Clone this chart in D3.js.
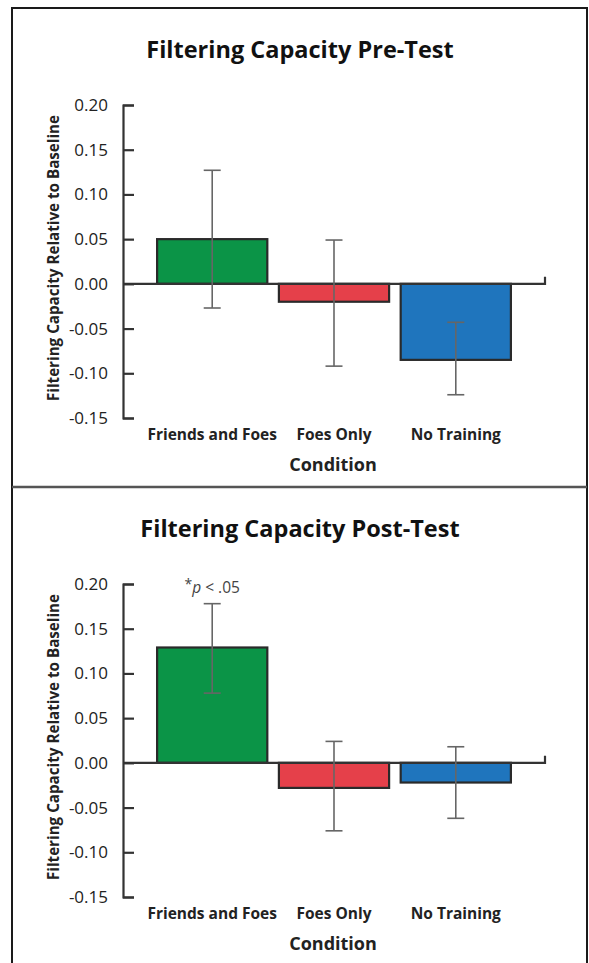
<!DOCTYPE html>
<html>
<head>
<meta charset="utf-8">
<title>Filtering Capacity</title>
<script src="https://cdn.jsdelivr.net/npm/d3@7"></script>
<style>
  body { margin: 0; background: #fff; }
  svg { font-family: "Open Sans", sans-serif; }
</style>
</head>
<body>
<svg width="589" height="963" id="mainsvg"></svg>
<script>
    // data
    const conditions = ['Friends and Foes', 'Foes Only', 'No Training'];
    const barColors = ['#0b9447', '#e5404a', '#1f75bd'];
    const yTicks = [0.20, 0.15, 0.10, 0.05, 0.00, -0.05, -0.10, -0.15];

    const preMeans = [0.050, -0.020, -0.085];
    const preLow = [-0.027, -0.092, -0.124];
    const preHigh = [0.127, 0.049, -0.043];

    const postMeans = [0.129, -0.028, -0.022];
    const postLow = [0.078, -0.076, -0.062];
    const postHigh = [0.178, 0.024, 0.018];

    const svg = d3.select('svg');

    // frame + divider
    svg.append('rect').attr('x', 12).attr('y', 8).attr('width', 575).attr('height', 1000)
        .attr('fill', 'none').attr('stroke', '#1a1a1a').attr('stroke-width', 2);
    svg.append('line').attr('x1', 12).attr('x2', 587).attr('y1', 487).attr('y2', 487)
        .attr('stroke', '#555').attr('stroke-width', 2.5);

    const y = d3.scaleLinear().domain([-0.15, 0.20]).range([418, 105]);
    const x = d3.scaleBand().domain(conditions).range([123, 545])
        .paddingInner(0.095).paddingOuter(0.28);

    function drawPanel(top, title, means, low, high, note) {
        const g = svg.append('g').attr('transform', `translate(0, ${top})`);

        g.append('text').attr('x', 300).attr('y', 58).attr('text-anchor', 'middle')
            .attr('font-size', 23.5).attr('font-weight', 'bold').attr('fill', '#111').text(title);

        // y axis, ticks pointing inwards, plain hyphen for negatives
        const yAxis = d3.axisLeft(y).tickValues(yTicks).tickFormat(d => d.toFixed(2))
            .tickSize(-11).tickPadding(15);
        const ya = g.append('g').attr('transform', 'translate(123,0)').call(yAxis);
        ya.select('.domain').attr('stroke', '#333').attr('stroke-width', 2.2);
        ya.selectAll('.tick line').attr('stroke', '#333').attr('stroke-width', 2.2);
        ya.selectAll('.tick text').attr('font-size', 17).attr('fill', '#222')
            .attr('font-family', '"Open Sans", sans-serif');

        g.append('text').attr('transform', 'translate(59, 258) rotate(-90)')
            .attr('text-anchor', 'middle').attr('font-size', 15.2).attr('font-weight', 'bold')
            .attr('fill', '#222').text('Filtering Capacity Relative to Baseline');

        // bars
        g.selectAll('rect.bar').data(conditions).join('rect').attr('class', 'bar')
            .attr('x', d => x(d))
            .attr('width', x.bandwidth())
            .attr('y', (d, i) => y(Math.max(0, means[i])))
            .attr('height', (d, i) => Math.abs(y(means[i]) - y(0)))
            .attr('fill', (d, i) => barColors[i])
            .attr('stroke', '#2a2a2a').attr('stroke-width', 2.2);

        // zero line with small end tick
        g.append('path')
            .attr('d', `M123,${y(0)}H545V${y(0) - 7}`)
            .attr('fill', 'none').attr('stroke', '#333').attr('stroke-width', 2.2);

        // error bars
        const eb = g.selectAll('g.err').data(conditions).join('g').attr('class', 'err')
            .attr('stroke', '#666').attr('stroke-width', 1.6);
        eb.append('line')
            .attr('x1', d => x(d) + x.bandwidth() / 2).attr('x2', d => x(d) + x.bandwidth() / 2)
            .attr('y1', (d, i) => y(high[i])).attr('y2', (d, i) => y(low[i]));
        eb.append('line')
            .attr('x1', d => x(d) + x.bandwidth() / 2 - 8.5).attr('x2', d => x(d) + x.bandwidth() / 2 + 8.5)
            .attr('y1', (d, i) => y(high[i])).attr('y2', (d, i) => y(high[i]));
        eb.append('line')
            .attr('x1', d => x(d) + x.bandwidth() / 2 - 8.5).attr('x2', d => x(d) + x.bandwidth() / 2 + 8.5)
            .attr('y1', (d, i) => y(low[i])).attr('y2', (d, i) => y(low[i]));

        // category labels
        g.selectAll('text.cat').data(conditions).join('text').attr('class', 'cat')
            .attr('x', d => x(d) + x.bandwidth() / 2).attr('y', 440)
            .attr('text-anchor', 'middle').attr('font-size', 15.5).attr('font-weight', 'bold')
            .attr('fill', '#222').text(d => d);

        g.append('text').attr('x', 333).attr('y', 471).attr('text-anchor', 'middle')
            .attr('font-size', 18).attr('font-weight', 'bold').attr('fill', '#222').text('Condition');

        if (note) {
            const t = g.append('text').attr('x', x(conditions[0]) + x.bandwidth() / 2).attr('y', 114)
                .attr('text-anchor', 'middle').attr('font-size', 15.5).attr('fill', '#444');
            t.append('tspan').attr('font-size', 14).attr('dy', -4).text('*');
            t.append('tspan').attr('font-style', 'italic').attr('dy', 4).text('p');
            t.append('tspan').text(' < .05');
        }
    }

    drawPanel(0, 'Filtering Capacity Pre-Test', preMeans, preLow, preHigh, false);
    drawPanel(479, 'Filtering Capacity Post-Test', postMeans, postLow, postHigh, true);
</script>
</body>
</html>
